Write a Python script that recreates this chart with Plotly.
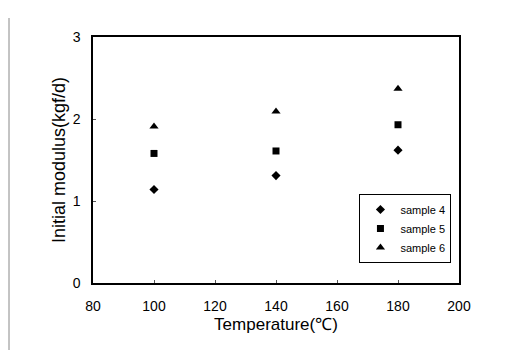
import plotly.graph_objects as go

temperature = [100, 140, 180]
sample4 = [1.14, 1.31, 1.62]
sample5 = [1.58, 1.61, 1.93]
sample6 = [1.91, 2.09, 2.37]
series_names = ["sample 4", "sample 5", "sample 6"]
x_ticks = [80, 100, 120, 140, 160, 180, 200]
y_ticks = [0, 1, 2, 3]

fig = go.Figure()
symbols = ["diamond", "square", "triangle-up"]
sizes = [7, 7, 8]
for name, vals, sym, sz in zip(series_names, [sample4, sample5, sample6], symbols, sizes):
    fig.add_trace(go.Scatter(
        x=temperature, y=vals, mode="markers", name=name,
        marker=dict(symbol=sym, size=sz, color="black"),
    ))

font_family = "Liberation Sans, Arial, sans-serif"
fig.update_layout(
    width=512, height=350,
    margin=dict(l=85, r=61, t=29, b=75),
    paper_bgcolor="white", plot_bgcolor="white",
    font=dict(family=font_family, color="black", size=14),
    showlegend=True,
    legend=dict(
        x=0.728, y=0.362, xanchor="left", yanchor="top",
        bordercolor="black", borderwidth=1, bgcolor="white",
        font=dict(size=11, family=font_family),
        itemwidth=30, tracegroupgap=0,
    ),
    xaxis=dict(
        range=[80, 200], tickvals=x_ticks, ticks="inside", ticklen=3,
        tickcolor="#555", showline=True, linecolor="black", linewidth=1.5,
        mirror=True, showgrid=False, zeroline=False, ticklabelstandoff=9,
        title=dict(text="Temperature(℃)", font=dict(size=17), standoff=6),
        tickfont=dict(size=14),
    ),
    yaxis=dict(
        range=[0, 3], tickvals=y_ticks, ticks="inside", ticklen=3,
        tickcolor="#555", showline=True, linecolor="black", linewidth=1.5,
        mirror=True, showgrid=False, zeroline=False, ticklabelstandoff=8,
        title=dict(text="Initial modulus(kgf/d)", font=dict(size=18), standoff=2),
        tickfont=dict(size=14),
    ),
)

# scan border line at left
fig.add_shape(type="line", xref="paper", yref="paper",
              x0=-84/366, x1=-84/366, y0=-75/246, y1=1 + 19/246,
              line=dict(color="#888", width=1))

fig.write_html("out.html")
